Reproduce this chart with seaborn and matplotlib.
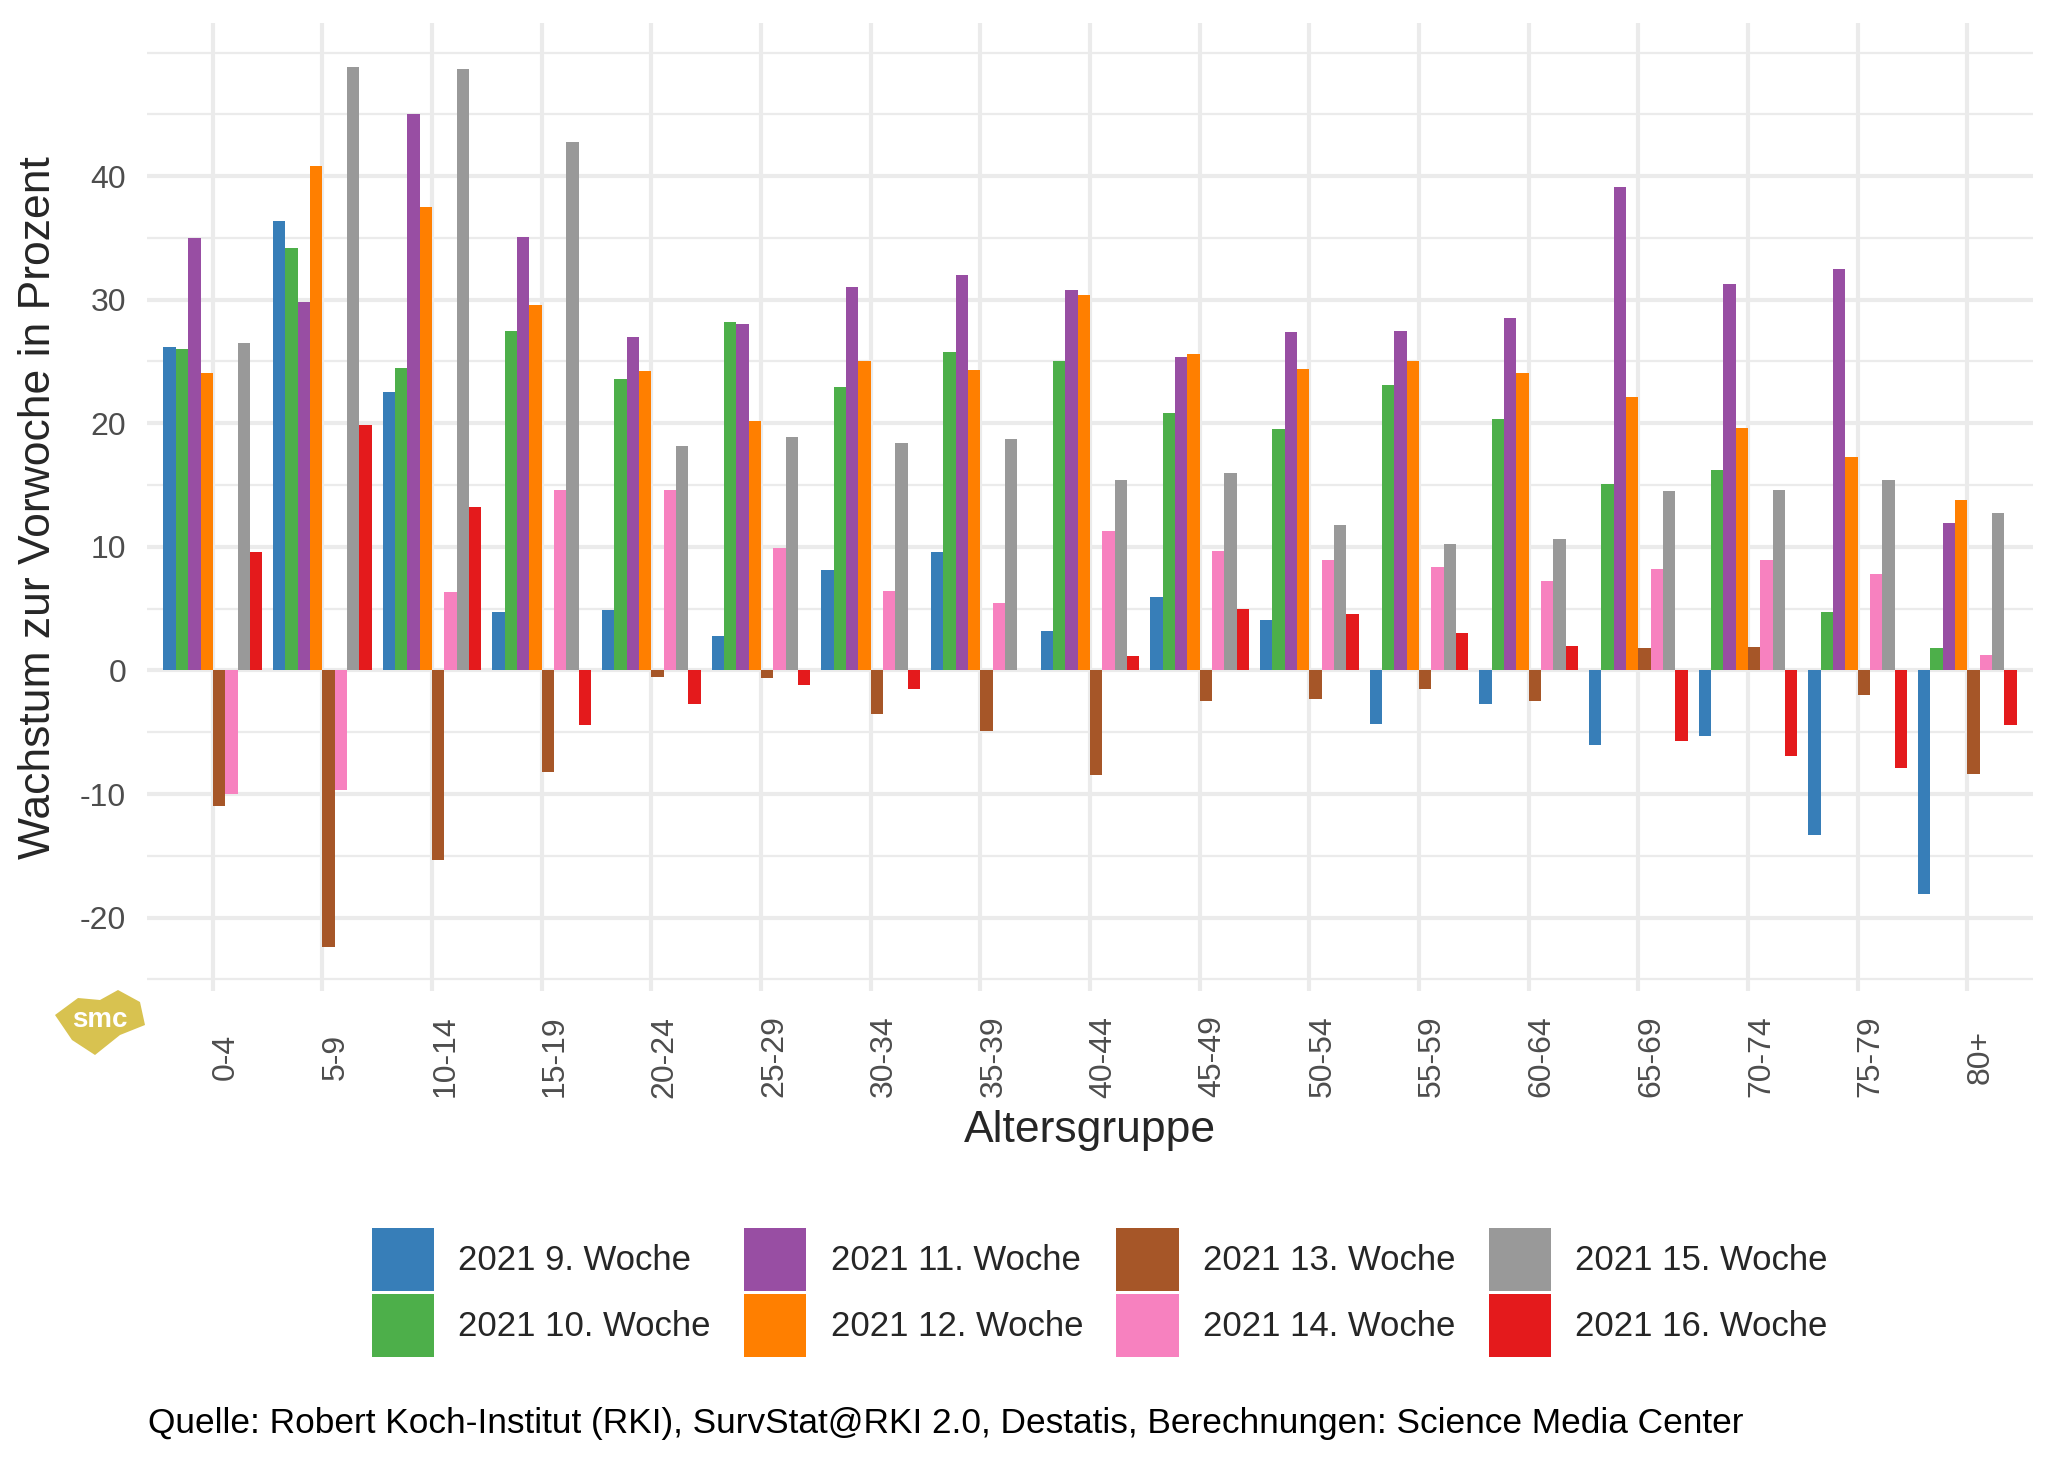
import matplotlib
matplotlib.use("Agg")
import matplotlib.pyplot as plt
import matplotlib.transforms as mtransforms
from matplotlib.patches import Polygon
import numpy as np
import pandas as pd
import seaborn as sns

# age groups on the x axis
groups = ['0-4', '5-9', '10-14', '15-19', '20-24', '25-29', '30-34', '35-39', '40-44',
          '45-49', '50-54', '55-59', '60-64', '65-69', '70-74', '75-79', '80+']

weeks = ['2021 9. Woche', '2021 10. Woche', '2021 11. Woche', '2021 12. Woche',
         '2021 13. Woche', '2021 14. Woche', '2021 15. Woche', '2021 16. Woche']

week_colors = ['#377EB8', '#4DAF4A', '#984EA3', '#FF7F00',
               '#A65628', '#F781BF', '#999999', '#E41A1C']

# growth vs previous week in percent
w9 = [26.2, 36.4, 22.5, 4.7, 4.9, 2.8, 8.1, 9.6, 3.2, 5.95, 4.1, -4.3, -2.7, -6.05, -5.3, -13.35, -18.1]
w10 = [26.05, 34.2, 24.5, 27.5, 23.6, 28.2, 22.9, 25.8, 25.0, 20.8, 19.5, 23.1, 20.35, 15.1, 16.2, 4.7, 1.85]
w11 = [35.0, 29.8, 45.0, 35.1, 27.0, 28.0, 31.0, 32.0, 30.8, 25.4, 27.4, 27.5, 28.5, 39.1, 31.3, 32.5, 11.9]
w12 = [24.1, 40.8, 37.5, 29.6, 24.2, 20.2, 25.0, 24.3, 30.4, 25.6, 24.4, 25.0, 24.1, 22.1, 19.65, 17.3, 13.8]
w13 = [-11.0, -22.4, -15.3, -8.2, -0.5, -0.65, -3.5, -4.9, -8.5, -2.5, -2.3, -1.5, -2.5, 1.8, 1.9, -2.0, -8.4]
w14 = [-10.0, -9.7, 6.35, 14.6, 14.6, 9.9, 6.45, 5.45, 11.3, 9.7, 8.9, 8.4, 7.2, 8.2, 8.9, 7.8, 1.25]
w15 = [26.5, 48.8, 48.7, 42.8, 18.2, 18.9, 18.4, 18.7, 15.4, 16.0, 11.8, 10.2, 10.6, 14.5, 14.6, 15.4, 12.7]
w16 = [9.6, 19.9, 13.2, -4.4, -2.7, -1.2, -1.5, 0.0, 1.15, 4.96, 4.6, 3.0, 2.0, -5.75, -6.95, -7.9, -4.45]

series = [w9, w10, w11, w12, w13, w14, w15, w16]

rows = []
for wk, vals in zip(weeks, series):
    for g, v in zip(groups, vals):
        rows.append({'Altersgruppe': g, 'Woche': wk, 'Wachstum': v})
df = pd.DataFrame(rows)

sns.set_theme(style="whitegrid")
plt.rcParams['font.family'] = ['Liberation Sans', 'DejaVu Sans']
plt.rcParams['axes.unicode_minus'] = False

fig = plt.figure(figsize=(20.48, 14.62), dpi=100)
ax = fig.add_axes([0.0718, 0.322, 0.9927 - 0.0718, 0.984 - 0.322])

sns.barplot(data=df, x='Altersgruppe', y='Wachstum', hue='Woche', order=groups,
            hue_order=weeks, palette=dict(zip(weeks, week_colors)), width=0.9,
            saturation=1, linewidth=0, errorbar=None, ax=ax)

# ggplot-like expansion of the y range
allv = np.concatenate([np.array(s) for s in series])
lo, hi = allv.min(), allv.max()
pad = (hi - lo) * 0.05
ax.set_ylim(lo - pad, hi + pad)
ax.set_xlim(-0.6, len(groups) - 0.4)

ax.set_yticks(range(-20, 50, 10))
ax.set_yticks([-25, -15, -5, 5, 15, 25, 35, 45, 50], minor=True)
ax.set_facecolor('white')
ax.grid(which='major', axis='both', color='#EBEBEB', linewidth=3)
ax.grid(which='minor', axis='y', color='#EBEBEB', linewidth=1.6)
ax.set_axisbelow(True)
for s in ax.spines.values():
    s.set_visible(False)

ax.tick_params(axis='y', which='both', length=0, pad=15, labelsize=23, labelcolor='#4D4D4D')
ax.tick_params(axis='x', length=0, pad=47, labelsize=23, labelcolor='#4D4D4D')
shift = mtransforms.ScaledTranslation(0.13, 0, fig.dpi_scale_trans)
for lab in ax.get_xticklabels():
    lab.set_rotation(90)
    lab.set_ha('center')
    lab.set_va('center')
    lab.set_transform(lab.get_transform() + shift)

ax.set_xlabel('Altersgruppe', fontsize=32)
ax.set_ylabel('Wachstum zur Vorwoche in Prozent', fontsize=32)
ax.xaxis.set_label_coords(0.5, -0.1436)
ax.yaxis.set_label_coords(-0.0578, 0.5)
ax.xaxis.label.set_va('center')
ax.yaxis.label.set_va('center')

handles, labels = ax.get_legend_handles_labels()
ax.get_legend().remove()
fig.legend(handles, labels, ncol=4, loc='center', bbox_to_anchor=(0.537, 0.116),
           frameon=False, fontsize=25, handlelength=1.8, handleheight=2.4,
           handletextpad=0.7, columnspacing=0.95, labelspacing=0.1)

fig.text(148 / 2048, 0.026, 'Quelle: Robert Koch-Institut (RKI), SurvStat@RKI 2.0, Destatis, '
         'Berechnungen: Science Media Center', fontsize=25.4, ha='left', va='center', color='black')

# smc logo (rough)
logo_px = [(55, 1015), (78, 998), (100, 1000), (118, 990), (140, 1002), (145, 1025),
           (120, 1035), (95, 1055), (72, 1040)]
logo = Polygon([(x / 2048, 1 - y / 1462) for x, y in logo_px], closed=True,
               transform=fig.transFigure, facecolor='#D8C250', edgecolor='none')
fig.add_artist(logo)
fig.text(100 / 2048, 1 - 1020 / 1462, 'smc', fontsize=20, fontweight='bold', color='white',
         ha='center', va='center')

fig.savefig('out.png', dpi=100, facecolor='white')
